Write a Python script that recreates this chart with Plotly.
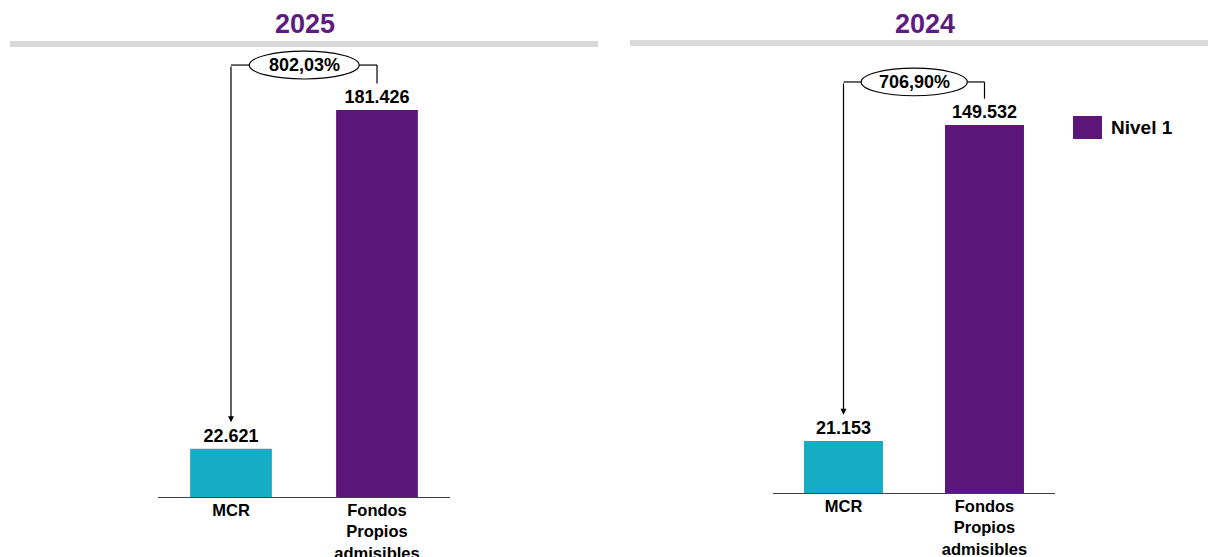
import plotly.graph_objects as go

categories = ["MCR", "Fondos<br>Propios<br>admisibles"]
years = ["2025", "2024"]
values_2025 = [22621, 181426]
values_2024 = [21153, 149532]
ratio_labels = ["802,03%", "706,90%"]
legend_label = "Nivel 1"

TEAL = "#16ADC4"
PURPLE = "#5C1679"
TITLE_PURPLE = "#5E1B80"
FONT = "Liberation Sans, Arial, sans-serif"

W, H = 1208, 557

def fmt(v):
    return f"{v:,}".replace(",", ".")

fig = go.Figure()

panels = [
    dict(vals=values_2025, xa="x", ya="y", xr=(158, 450), yr=(497, 48), ymax=210500,
         top=202500, title_x=305, line=(10, 598), line_y=44, label=ratio_labels[0], year=years[0]),
    dict(vals=values_2024, xa="x2", ya="y2", xr=(773, 1055), yr=(493, 48), ymax=180800,
         top=167000, title_x=925, line=(630, 1208), line_y=43, label=ratio_labels[1], year=years[1]),
]

shapes = []
annotations = []
layout_axes = {}

for i, p in enumerate(panels):
    suffix = "" if i == 0 else "2"
    fig.add_trace(go.Bar(
        x=[0, 1], y=p["vals"], xaxis=p["xa"], yaxis=p["ya"],
        marker=dict(color=[TEAL, PURPLE], line=dict(width=0)),
        width=0.56,
        text=[fmt(v) for v in p["vals"]], textposition="outside",
        textfont=dict(family=FONT, size=18, color="black"),
        texttemplate="<b>%{text}</b>",
        cliponaxis=False, showlegend=False, hoverinfo="skip",
    ))
    layout_axes["xaxis" + suffix] = dict(
        domain=[p["xr"][0] / W, p["xr"][1] / W], anchor=p["ya"], automargin=False,
        range=[-0.5, 1.5], showline=True, linecolor="#404040", linewidth=1,
        ticks="", showgrid=False, zeroline=False, ticklabelstandoff=-2,
        tickfont=dict(family=FONT, size=16.5, color="black"),
        tickvals=[0, 1], ticktext=["<b>" + c.replace("<br>", "</b><br><b>") + "</b>" for c in categories],
    )
    layout_axes["yaxis" + suffix] = dict(
        domain=[1 - p["yr"][0] / H, 1 - p["yr"][1] / H], anchor=p["xa"], automargin=False,
        range=[0, p["ymax"]], visible=False, showgrid=False, zeroline=False,
    )
    gap = 0.059 * p["ymax"]
    top = p["top"]
    half_h = 0.031 * p["ymax"]
    ex0, ex1 = 0.125, 0.878
    shapes.append(dict(type="line", xref=p["xa"], yref=p["ya"], x0=0, x1=ex0, y0=top, y1=top,
                       line=dict(color="black", width=1.2)))
    shapes.append(dict(type="line", xref=p["xa"], yref=p["ya"], x0=ex1, x1=1, y0=top, y1=top,
                       line=dict(color="black", width=1.2)))
    shapes.append(dict(type="line", xref=p["xa"], yref=p["ya"], x0=1, x1=1, y0=top, y1=p["vals"][1] + gap,
                       line=dict(color="black", width=1.2)))
    shapes.append(dict(type="circle", xref=p["xa"], yref=p["ya"], x0=ex0, x1=ex1,
                       y0=top - half_h, y1=top + half_h,
                       line=dict(color="black", width=1.2), fillcolor="white"))
    annotations.append(dict(xref=p["xa"], yref=p["ya"], x=0, y=p["vals"][0] + gap,
                            axref=p["xa"], ayref=p["ya"], ax=0, ay=top, text="",
                            showarrow=True, arrowhead=2, arrowsize=1, arrowwidth=1.2,
                            arrowcolor="black", standoff=0))
    annotations.append(dict(xref=p["xa"], yref=p["ya"], x=(ex0 + ex1) / 2, y=top,
                            text="<b>" + p["label"] + "</b>", showarrow=False,
                            font=dict(family=FONT, size=18, color="black")))
    annotations.append(dict(xref="paper", yref="paper", x=p["title_x"] / W, y=1 - 24 / H,
                            text="<b>" + p["year"] + "</b>", showarrow=False,
                            font=dict(family=FONT, size=27, color=TITLE_PURPLE),
                            xanchor="center", yanchor="middle"))
    shapes.append(dict(type="line", xref="paper", yref="paper",
                       x0=p["line"][0] / W, x1=p["line"][1] / W,
                       y0=1 - p["line_y"] / H, y1=1 - p["line_y"] / H,
                       line=dict(color="#D9D9D9", width=6)))

# legend (manual)
shapes.append(dict(type="rect", xref="paper", yref="paper",
                   x0=1073 / W, x1=1102 / W, y0=1 - 139 / H, y1=1 - 116 / H,
                   fillcolor=PURPLE, line=dict(width=0)))
annotations.append(dict(xref="paper", yref="paper", x=1109 / W, y=1 - 127 / H,
                        text="<b>" + legend_label + "</b>", showarrow=False,
                        xanchor="left", yanchor="middle",
                        font=dict(family=FONT, size=19, color="black")))

fig.update_layout(
    width=W, height=H, margin=dict(l=0, r=0, t=0, b=0),
    paper_bgcolor="white", plot_bgcolor="white",
    shapes=shapes, annotations=annotations,
    **layout_axes,
)

fig.write_html("out.html")
